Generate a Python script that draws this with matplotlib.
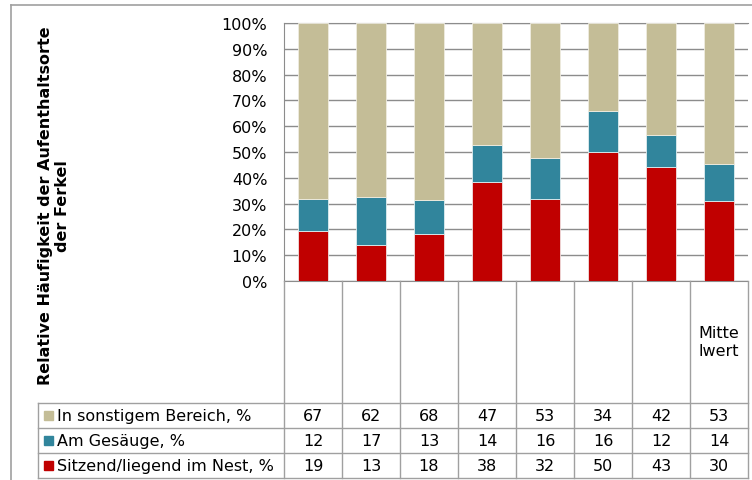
import matplotlib
matplotlib.use("Agg")
import matplotlib.pyplot as plt
from matplotlib.lines import Line2D
from matplotlib import transforms
import numpy as np

# =========================
# DATA
# =========================
categories = ["", "", "", "", "", "", "", "Mitte\nlwert"]
series_names = ["In sonstigem Bereich, %", "Am Gesäuge, %", "Sitzend/liegend im Nest, %"]
sonstig = [67, 62, 68, 47, 53, 34, 42, 53]
gesaeuge = [12, 17, 13, 14, 16, 16, 12, 14]
nest = [19, 13, 18, 38, 32, 50, 43, 30]
colors = ["#C4BD97", "#31859C", "#C00000"]
y_ticks = [0, 10, 20, 30, 40, 50, 60, 70, 80, 90, 100]

# =========================
# FIGURE
# =========================
W, H = 752, 481
fig = plt.figure(figsize=(W / 100, H / 100), dpi=100)
plt.rcParams["font.family"] = ["DejaVu Sans"]
FS = 11.5

def fx(x):
    return x / W

def fy(y):
    return 1 - y / H

GRID = "#8c8c8c"
LINE = "#a0a0a0"

# plot area
x0, x1, ytop, ybot = 284, 748, 24, 282
ax = fig.add_axes([fx(x0), fy(ybot), fx(x1) - fx(x0), fy(ytop) - fy(ybot)])

# normalise to 100 %
tot = np.array(sonstig) + np.array(gesaeuge) + np.array(nest)
p_nest = np.array(nest) / tot * 100
p_ges = np.array(gesaeuge) / tot * 100
p_son = np.array(sonstig) / tot * 100

x = np.arange(len(categories))
bw = 0.52
ax.bar(x, p_nest, bw, color=colors[2], edgecolor="#f0e0e0", linewidth=0.6, zorder=3)
ax.bar(x, p_ges, bw, bottom=p_nest, color=colors[1], edgecolor="#e0eef0", linewidth=0.6, zorder=3)
ax.bar(x, p_son, bw, bottom=p_nest + p_ges, color=colors[0], edgecolor="#efece0", linewidth=0.6, zorder=3)

ax.set_xlim(-0.5, len(categories) - 0.5)
ax.set_ylim(0, 100)
ax.set_yticks(y_ticks)
ax.set_yticklabels([f"{t}%" for t in y_ticks], fontsize=FS)
ax.tick_params(axis="y", length=0, pad=12)
ax.set_xticks([])
ax.grid(axis="y", color=GRID, linewidth=1.0, zorder=0)
for s in ["left", "top", "bottom"]:
    ax.spines[s].set_color(GRID)
ax.spines["right"].set_visible(False)

# y label
fig.text(fx(54), fy(206), "Relative Häufigkeit der Aufenthaltsorte\nder Ferkel",
         rotation=90, ha="center", va="center", fontsize=11.5, fontweight="bold",
         multialignment="center", linespacing=1.1)

# outer chart border
fig.add_artist(Line2D([fx(11), 1], [fy(6), fy(6)], color=LINE, lw=1.2))
fig.add_artist(Line2D([fx(11), fx(11)], [fy(6), 0], color=LINE, lw=1.2))

# =========================
# DATA TABLE
# =========================
bt = transforms.blended_transform_factory(ax.transData, fig.transFigure)
head_bot = 404
row_h = 25
rows_y = [head_bot + i * row_h for i in range(4)]
label_x = 38

# vertical column lines
for b in np.arange(-0.5, len(categories), 1.0):
    fig.add_artist(Line2D([b, b], [fy(ybot), fy(rows_y[-1])], color=LINE, lw=1.0, transform=bt))
# horizontal row lines
for yy in rows_y:
    fig.add_artist(Line2D([fx(label_x), fx(x1)], [fy(yy), fy(yy)], color=LINE, lw=1.0))
fig.add_artist(Line2D([fx(label_x), fx(label_x)], [fy(rows_y[0]), fy(rows_y[-1])], color=LINE, lw=1.0))

# header text (category labels)
for i, c in enumerate(categories):
    if c:
        fig.text(i, fy((ybot + head_bot) / 2), c, transform=bt, ha="center", va="center",
                 fontsize=FS, multialignment="left", linespacing=1.25)

# rows
table_rows = [sonstig, gesaeuge, nest]
for r, (name, vals, col) in enumerate(zip(series_names, table_rows, colors)):
    yc = (rows_y[r] + rows_y[r + 1]) / 2
    fig.patches.append(plt.Rectangle((fx(44), fy(yc + 4.5)), fx(9), 9 / H, color=col,
                                     transform=fig.transFigure, figure=fig))
    fig.text(fx(57), fy(yc), name, ha="left", va="center", fontsize=FS)
    for i, v in enumerate(vals):
        fig.text(i, fy(yc), str(v), transform=bt, ha="center", va="center", fontsize=FS)

fig.savefig("out.png", dpi=100)
